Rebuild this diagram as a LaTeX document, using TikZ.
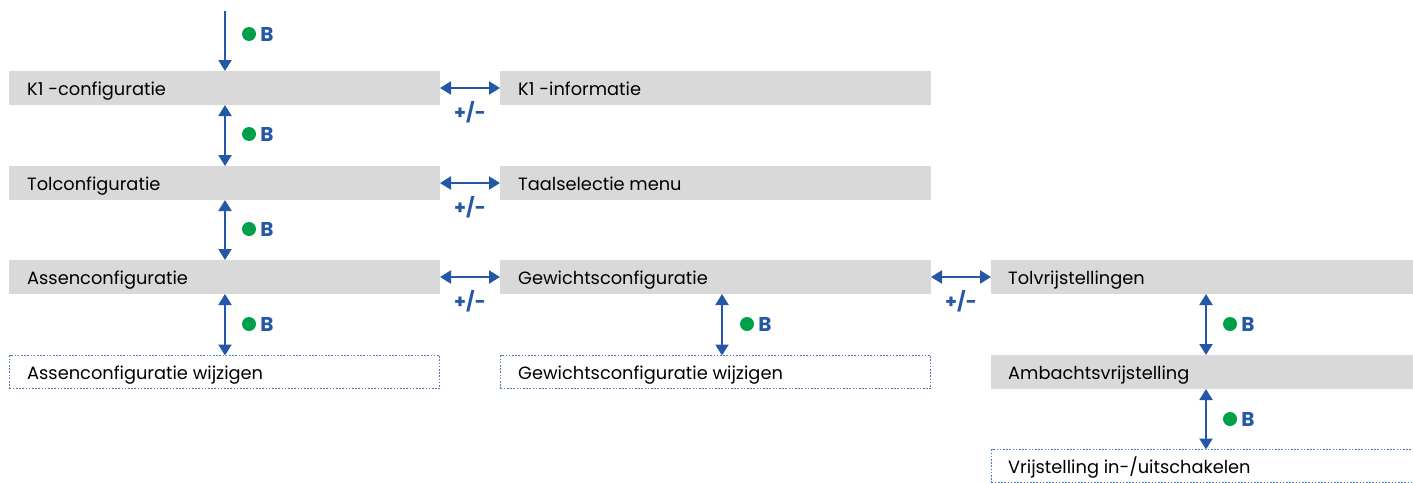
\documentclass[tikz,border=0pt]{standalone}
\usepackage{fontspec}
\setmainfont{Poppins}
\usetikzlibrary{arrows.meta}
\definecolor{arrblue}{HTML}{2457A6}
\definecolor{boxgray}{HTML}{D9D9D9}
\definecolor{dotgreen}{HTML}{00A04B}
\tikzset{
  menubox/.style={fill=boxgray, draw=none, minimum width=431pt, minimum height=34pt, inner sep=0pt, outer sep=0pt},
  actbox/.style={draw=arrblue!80, dash pattern=on 1.6pt off 1.6pt, line width=0.8pt, fill=white, minimum width=430pt, minimum height=33pt, inner sep=0pt, outer sep=0pt},
  boxtext/.style={anchor=base west, inner sep=0pt, font=\fontsize{17.8}{20}\selectfont},
  conn/.style={draw=arrblue, line width=2.2pt, -{Triangle[width=13pt,length=11pt]}},
  bconn/.style={draw=arrblue, line width=2.2pt, {Triangle[width=13pt,length=11pt]}-{Triangle[width=13pt,length=11pt]}},
  gdot/.style={circle, fill=dotgreen, minimum size=14pt, inner sep=0pt},
  blab/.style={text=arrblue, font=\fontsize{20}{22}\selectfont\bfseries, inner sep=0pt},
  pmlab/.style={text=arrblue, font=\fontsize{19}{20}\selectfont\bfseries, inner sep=0pt}
}
\begin{document}
\begin{tikzpicture}[x=1pt,y=-1pt]
\useasboundingbox (0,0) rectangle (1413,482);
% column 1
\node[menubox] (k1) at (224.5,88) {};
\node[boxtext] (k1t) at (27,95) {K1 -configuratie};
\node[menubox] (tol) at (224.5,183) {};
\node[boxtext] (tolt) at (27,190) {Tolconfiguratie};
\node[menubox] (as) at (224.5,277) {};
\node[boxtext] (ast) at (27,284) {Assenconfiguratie};
\node[actbox] (asw) at (224.5,372) {};
\node[boxtext] (aswt) at (27,379) {Assenconfiguratie wijzigen};
% column 2
\node[menubox] (k1i) at (715.5,88) {};
\node[boxtext] (k1it) at (518,95) {K1 -informatie};
\node[menubox] (taal) at (715.5,183) {};
\node[boxtext] (taalt) at (518,190) {Taalselectie menu};
\node[menubox] (gew) at (715.5,277) {};
\node[boxtext] (gewt) at (518,284) {Gewichtsconfiguratie};
\node[actbox] (gww) at (715.5,372) {};
\node[boxtext] (gwwt) at (518,379) {Gewichtsconfiguratie wijzigen};
% column 3
\node[menubox] (tvr) at (1206.5,277) {};
\node[boxtext] (tvrt) at (1008,284) {Tolvrijstellingen};
\node[menubox] (amb) at (1206.5,372) {};
\node[boxtext] (ambt) at (1008,379) {Ambachtsvrijstelling};
\node[actbox] (vrs) at (1206.5,466) {};
\node[boxtext] (vrst) at (1008,473) {Vrijstelling in-/uitschakelen};
% arrow columns
\coordinate (top) at (225,11);
\coordinate (c2) at (722,0);
\coordinate (c3) at (1206,0);
\draw[conn] (top) -- (top |- k1.north);
\node[gdot] (d0) at (249,34) {};
\node[blab] (b0) at (267,34) {B};
% vertical arrows column 1
\draw[bconn] (top |- k1.south) -- (top |- tol.north);
\node[gdot] (d1) at (249,134) {};
\node[blab] (b1) at (267,134) {B};
\draw[bconn] (top |- tol.south) -- (top |- as.north);
\node[gdot] (d2) at (249,229) {};
\node[blab] (b2) at (267,229) {B};
\draw[bconn] (top |- as.south) -- (top |- asw.north);
\node[gdot] (d3) at (249,324) {};
\node[blab] (b3) at (267,324) {B};
% column 2 vertical
\draw[bconn] (c2 |- gew.south) -- (c2 |- gww.north);
\node[gdot] (d4) at (747,324) {};
\node[blab] (b4) at (765,324) {B};
% column 3 vertical
\draw[bconn] (c3 |- tvr.south) -- (c3 |- amb.north);
\node[gdot] (d5) at (1230,324) {};
\node[blab] (b5) at (1248,324) {B};
\draw[bconn] (c3 |- amb.south) -- (c3 |- vrs.north);
\node[gdot] (d6) at (1230,419) {};
\node[blab] (b6) at (1248,419) {B};
% horizontal arrows
\draw[bconn] (k1.east) -- (k1i.west);
\node[pmlab] (p1) at (470,112) {+/-};
\draw[bconn] (tol.east) -- (taal.west);
\node[pmlab] (p2) at (470,207) {+/-};
\draw[bconn] (as.east) -- (gew.west);
\node[pmlab] (p3) at (470,301) {+/-};
\draw[bconn] (gew.east) -- (tvr.west);
\node[pmlab] (p4) at (961,301) {+/-};
\end{tikzpicture}
\end{document}
